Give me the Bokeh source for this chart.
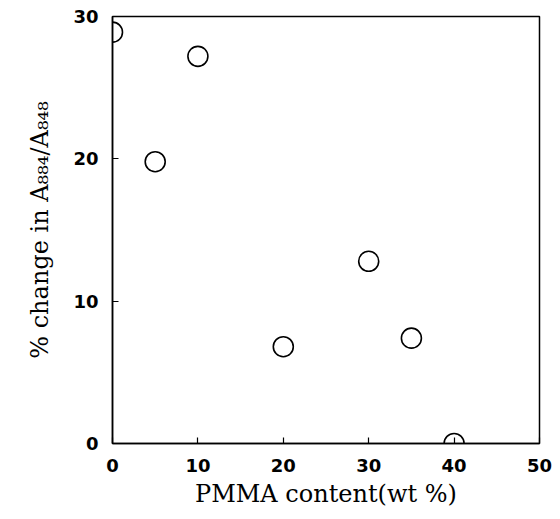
from bokeh.plotting import figure
from bokeh.models import FixedTicker, Range1d
from bokeh.embed import file_html
from bokeh.resources import INLINE

pmma = [0, 5, 10, 20, 30, 35, 40]
change = [28.9, 19.8, 27.2, 6.8, 12.8, 7.4, 0.0]
x_ticks = [0, 10, 20, 30, 40, 50]
y_ticks = [0, 10, 20, 30]

p = figure(width=552, height=510, output_backend="svg", toolbar_location=None,
           x_range=Range1d(0, 50), y_range=Range1d(0, 30),
           min_border_left=112, min_border_right=13, min_border_top=16, min_border_bottom=67)
p.grid.visible = False
p.background_fill_color = "white"
p.border_fill_color = "white"
p.outline_line_color = "black"
p.outline_line_width = 1.5

p.scatter(pmma, change, size=20, fill_color=None, line_color="black", line_width=1.6)

for ax, ticks in ((p.xaxis, x_ticks), (p.yaxis, y_ticks)):
    ax.ticker = FixedTicker(ticks=ticks)
    ax.minor_tick_line_color = None
    ax.major_tick_in = 6
    ax.major_tick_out = 0
    ax.axis_line_width = 1.5
    ax.axis_line_color = "black"
    ax.major_tick_line_color = "black"
    ax.major_tick_line_width = 1.2
    ax.major_label_text_font = "DejaVu Sans"
    ax.major_label_text_font_style = "bold"
    ax.major_label_text_font_size = "18px"
    ax.major_label_text_color = "black"
    ax.axis_label_text_font = "DejaVu Serif"
    ax.axis_label_text_font_style = "normal"
    ax.axis_label_text_font_size = "24px"
    ax.axis_label_text_color = "black"

p.xaxis.axis_label = "PMMA content(wt %)"
p.yaxis.axis_label = "% change in A₈₈₄/A₈₄₈"
p.xaxis.major_label_standoff = 15
p.yaxis.major_label_standoff = 14
p.xaxis.axis_label_standoff = 5
p.yaxis.axis_label_standoff = 16

open("out.html", "w").write(file_html(p, INLINE))
